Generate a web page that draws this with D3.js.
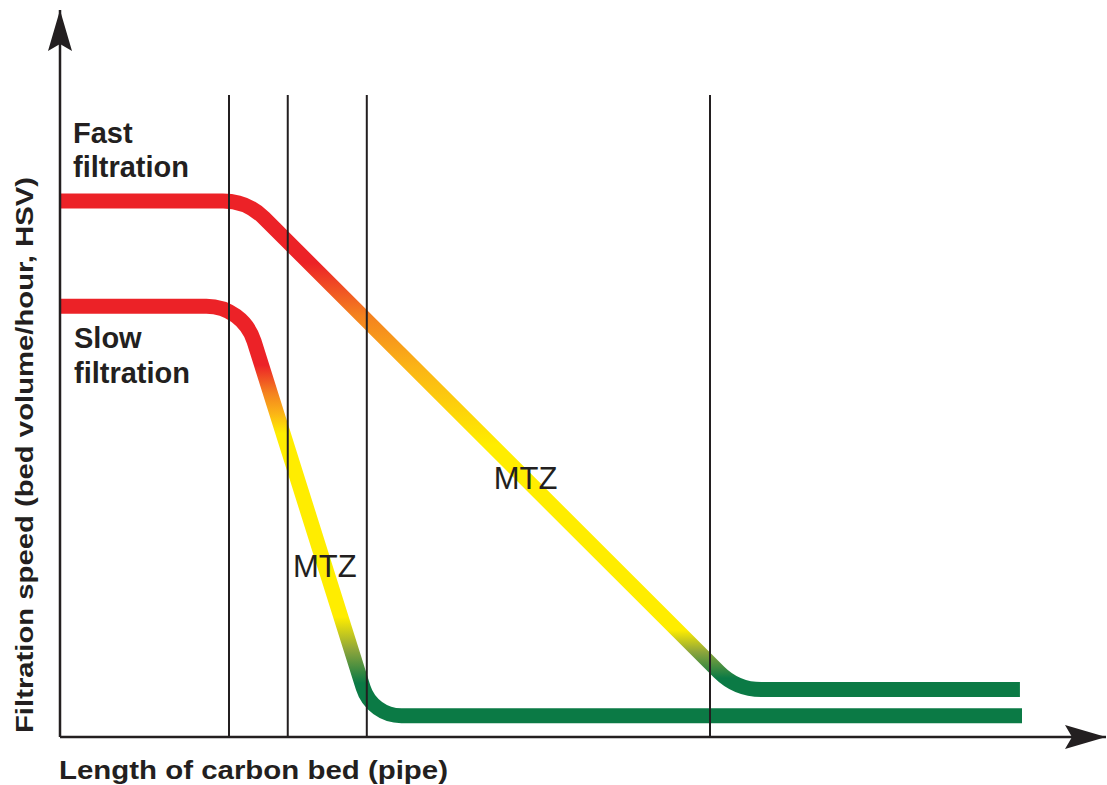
<!DOCTYPE html>
<html>
<head>
<meta charset="utf-8">
<script src="https://cdn.jsdelivr.net/npm/d3@7"></script>
<style>
  html, body { margin: 0; padding: 0; background: #ffffff; }
  svg { display: block; }
  text { font-family: "Liberation Sans", Arial, Helvetica, sans-serif; fill: #231f20; }
</style>
</head>
<body>
<svg id="chart" width="1107" height="785"></svg>
<script>
// ---------- data (abstract units: length 0-100, speed 0-100) ----------
const seriesNames = ["Fast filtration", "Slow filtration"];
const fastX = [0, 17.98, 65.05, 92.3];
const fastY = [83.5, 83.5, 7.4, 7.4];
const slowX = [0, 17.6, 30.0, 92.5];
const slowY = [67.1, 67.1, 3.3, 3.3];
const boundaries = [16.25, 21.9, 29.5, 62.5];
const zoneLabels = ["MTZ", "MTZ"];
const xAxisTitle = "Length of carbon bed (pipe)";
const yAxisTitle = "Filtration speed (bed volume/hour, HSV)";

// ---------- layout ----------
const W = 1107, H = 785;
const svg = d3.select("#chart");
const x = d3.scaleLinear().domain([0, 100]).range([60, 1100]);
const y = d3.scaleLinear().domain([0, 100]).range([737, 95]);
const ink = "#231f20";

const defs = svg.append("defs");

// gradients (vertical colour bands)
const palette = { red: "#ec2227", orange: "#f4821f", gold: "#fbb416", yellow: "#ffed00", olive: "#8da53b", green: "#0b7a45" };
function addGradient(id, yTop, yBot, stops) {
  const g = defs.append("linearGradient")
    .attr("id", id)
    .attr("gradientUnits", "userSpaceOnUse")
    .attr("x1", 0).attr("x2", 0)
    .attr("y1", yTop).attr("y2", yBot);
  stops.forEach(([o, c]) => g.append("stop").attr("offset", o).attr("stop-color", c));
}
addGradient("gradFast", y(fastY[0]), y(fastY[2]), [
  [0.127, palette.red], [0.235, palette.orange], [0.34, palette.gold],
  [0.50, palette.yellow], [0.878, palette.yellow], [0.923, palette.olive], [0.977, palette.green]
]);
addGradient("gradSlow", y(slowY[0]), y(slowY[2]), [
  [0.144, palette.red], [0.212, palette.orange], [0.262, palette.gold],
  [0.31, palette.yellow], [0.759, palette.yellow], [0.839, palette.olive], [0.92, palette.green]
]);

// arrowhead marker
defs.append("marker")
  .attr("id", "arrow")
  .attr("viewBox", "-44 -14 46 28")
  .attr("refX", 0).attr("refY", 0)
  .attr("markerWidth", 46).attr("markerHeight", 28)
  .attr("markerUnits", "userSpaceOnUse")
  .attr("orient", "auto")
  .append("path")
  .attr("d", "M0,0 L-41,-12 L-34,0 L-41,12 Z")
  .attr("fill", ink);

// rounded polyline through scaled points
function roundedPath(xs, ys, radii) {
  const p = d3.path();
  const pts = xs.map((v, i) => [x(v), y(ys[i])]);
  p.moveTo(pts[0][0], pts[0][1]);
  for (let i = 1; i < pts.length - 1; i++) {
    p.arcTo(pts[i][0], pts[i][1], pts[i + 1][0], pts[i + 1][1], radii[i - 1]);
  }
  p.lineTo(pts[pts.length - 1][0], pts[pts.length - 1][1]);
  return p.toString();
}

// series lines
svg.append("path")
  .attr("d", roundedPath(fastX, fastY, [58, 60]))
  .attr("fill", "none").attr("stroke", "url(#gradFast)")
  .attr("stroke-width", 15).attr("stroke-linecap", "butt");
svg.append("path")
  .attr("d", roundedPath(slowX, slowY, [50, 40]))
  .attr("fill", "none").attr("stroke", "url(#gradSlow)")
  .attr("stroke-width", 15).attr("stroke-linecap", "butt");

// vertical boundary lines
svg.append("g").selectAll("line")
  .data(boundaries)
  .join("line")
  .attr("x1", d => x(d)).attr("x2", d => x(d))
  .attr("y1", y(0)).attr("y2", y(100))
  .attr("stroke", ink).attr("stroke-width", 2);

// axes
svg.append("line")
  .attr("x1", x(0)).attr("y1", y(0))
  .attr("x2", x(0)).attr("y2", 10)
  .attr("stroke", ink).attr("stroke-width", 2.5)
  .attr("marker-end", "url(#arrow)");
svg.append("line")
  .attr("x1", x(0)).attr("y1", y(0))
  .attr("x2", W - 1).attr("y2", y(0))
  .attr("stroke", ink).attr("stroke-width", 2.5)
  .attr("marker-end", "url(#arrow)");

// series labels
const seriesLabelPos = [[73, 143, 34], [74, 348, 35]];
seriesNames.forEach((name, i) => {
  const [lx, ly, lh] = seriesLabelPos[i];
  const t = svg.append("text")
    .attr("x", lx).attr("y", ly)
    .attr("font-size", 29).attr("font-weight", "bold");
  name.split(" ").forEach((w, j) => {
    t.append("tspan").attr("x", lx).attr("y", ly + j * lh).text(w);
  });
});

// zone labels
const zonePos = [[x(41.7), y(38.6)], [x(22.4), y(24.9)]];
zoneLabels.forEach((lab, i) => {
  svg.append("text")
    .attr("x", zonePos[i][0]).attr("y", zonePos[i][1])
    .attr("font-size", 31)
    .text(lab);
});

// axis titles
svg.append("text")
  .attr("x", 59).attr("y", 779)
  .attr("font-size", 25).attr("font-weight", "bold")
  .attr("textLength", 389).attr("lengthAdjust", "spacingAndGlyphs")
  .text(xAxisTitle);
svg.append("text")
  .attr("transform", "translate(33,455) rotate(-90)")
  .attr("text-anchor", "middle")
  .attr("font-size", 24).attr("font-weight", "bold")
  .attr("textLength", 556).attr("lengthAdjust", "spacingAndGlyphs")
  .text(yAxisTitle);
</script>
</body>
</html>
